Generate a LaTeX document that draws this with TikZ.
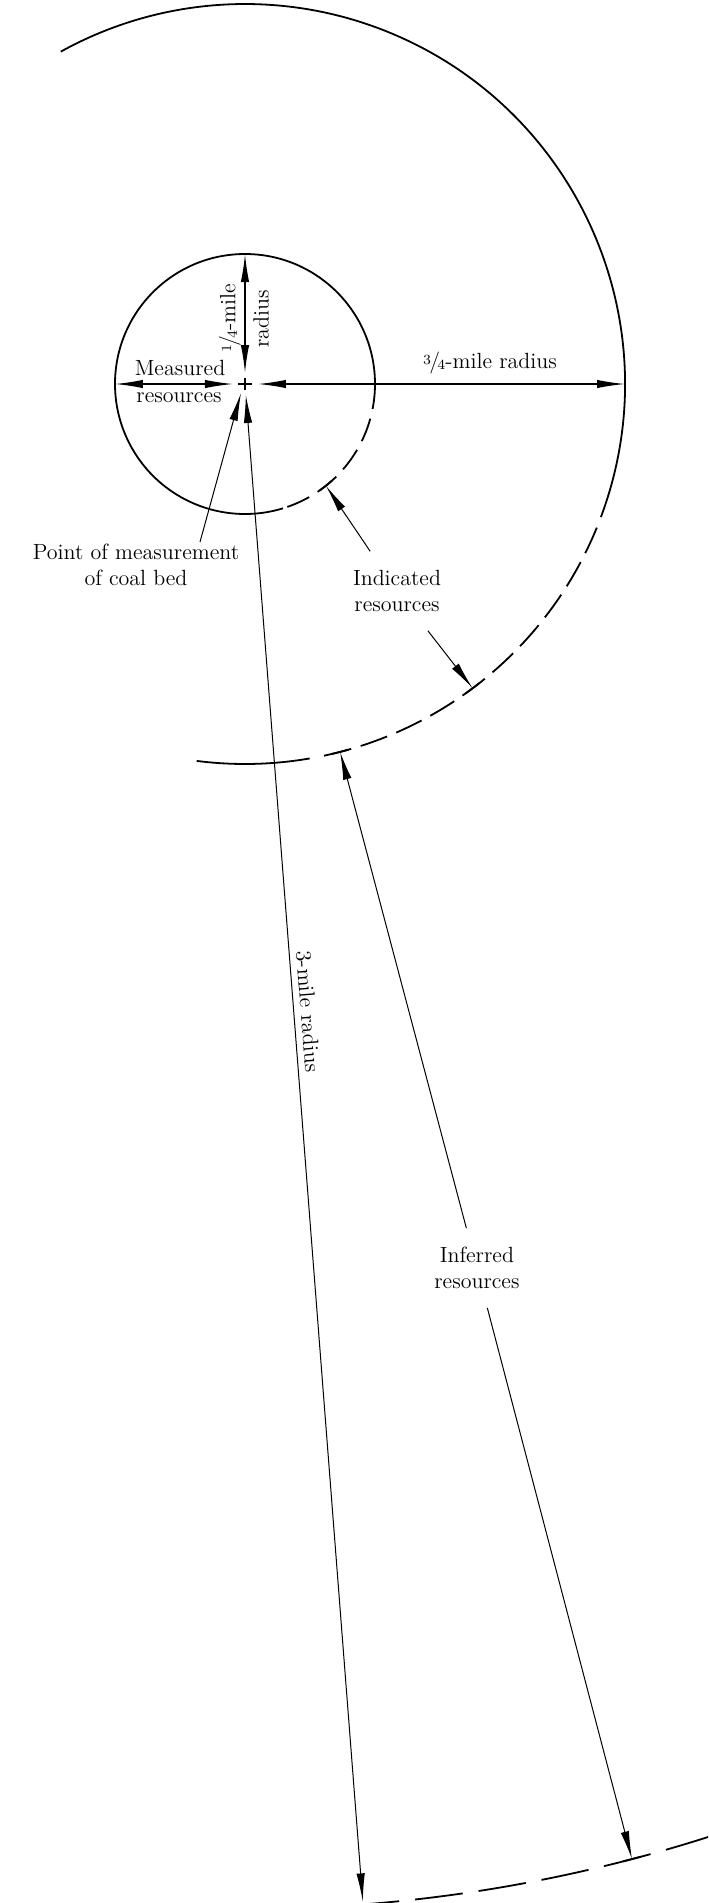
\documentclass[tikz,border=0pt]{standalone}
\usetikzlibrary{arrows.meta}
\newcommand{\qfrac}[2]{\raisebox{.45ex}{\scriptsize#1}\kern-.08em/\kern-.12em\raisebox{-.15ex}{\scriptsize#2}}
\begin{document}
\begin{tikzpicture}[x=.5pt, y=.5pt, >={Latex[length=14pt,width=4.2pt]},
	ringline/.style={line width=.9pt},
	dimline/.style={<->, line width=.7pt},
	pointer/.style={->, line width=.5pt},
	lbl/.style={font=\fontsize{11}{13}\selectfont, align=center, inner sep=1pt}]
	\useasboundingbox (-245,-1519) rectangle (463,384);
	\clip (-245,-1519) rectangle (463,384);
	\coordinate (C) at (0,0);
	% 1/4 mile
	\draw[ringline] (0:130) arc (0:287:130);
	\draw[ringline, dash pattern=on 12pt off 5pt] (-71:130) arc (-71:0:130);
	% 3/4 mile
	\draw[ringline] (-20.5:380) arc (-20.5:119:380);
	\draw[ringline, dash pattern=on 14pt off 5pt] (-78:380) arc (-78:-22:380);
	\draw[ringline] (-97.3:380) arc (-97.3:-80.2:380);
	% 3 mile
	\draw[ringline, dash pattern=on 24pt off 8pt] (-86:1525) arc (-86:-70:1525);
	% point of measurement
	\draw[line width=1.3pt] (-7,0) -- (7,0) (0,-6) -- (0,6);

	\coordinate (qin) at (90:11);
	\coordinate (qout) at (90:130);
	\draw[dimline] (qin) -- (qout);
	\node[lbl, rotate=90] (qa) at (-15,66) {\qfrac14-mile};
	\node[lbl, rotate=90] (qb) at (16,65) {radius};

	\coordinate (min) at (180:12);
	\coordinate (mout) at (180:130);
	\draw[dimline] (mout) -- (min);
	\node[lbl] (ma) at (-65,16) {Measured};
	\node[lbl] (mb) at (-66,-14) {resources};

	\coordinate (tqin) at (0:13);
	\coordinate (tqout) at (0:380);
	\draw[dimline] (tqin) -- (tqout);
	\node[lbl] (tq) at (245,21) {\qfrac34-mile radius};

	\coordinate (tmin) at (-85.56:11);
	\coordinate (tmout) at (-85.56:1522);
	\draw[dimline, line width=.5pt] (tmin) -- (tmout)
		node[lbl, pos=.41, above=2pt, sloped] (tm) {3-mile radius};

	\node[lbl, anchor=north] (pom) at (-109,-158) {Point of measurement\\of coal bed};
	\coordinate (ptip) at (-4,-9);
	\draw[pointer] ([xshift=32pt]pom.north) -- (ptip);

	\node[lbl, outer sep=8.5pt] (ind) at (152,-207) {Indicated\\resources};
	\coordinate (indtipa) at (-51.5:130);
	\coordinate (indtipb) at (-53.2:380);
	\draw[pointer] (ind) -- (indtipa);
	\draw[pointer] (ind) -- (indtipb);

	\node[lbl, outer sep=8.5pt] (inf) at (-75.3:914) {Inferred\\resources};
	\coordinate (inftipa) at (-75.5:380);
	\coordinate (inftipb) at (-75.3:1525);
	\draw[pointer] (inf) -- (inftipa);
	\draw[pointer] (inf) -- (inftipb);
	% ticks where the pointers meet the dashed arcs
	\foreach \a/\r/\d in {-51.5/130/3.5, -53.2/380/1.3, -75.5/380/1.3, -75.3/1525/.35}
		\draw[ringline] (\a-\d:\r) arc (\a-\d:\a+\d:\r);
\end{tikzpicture}
\end{document}
